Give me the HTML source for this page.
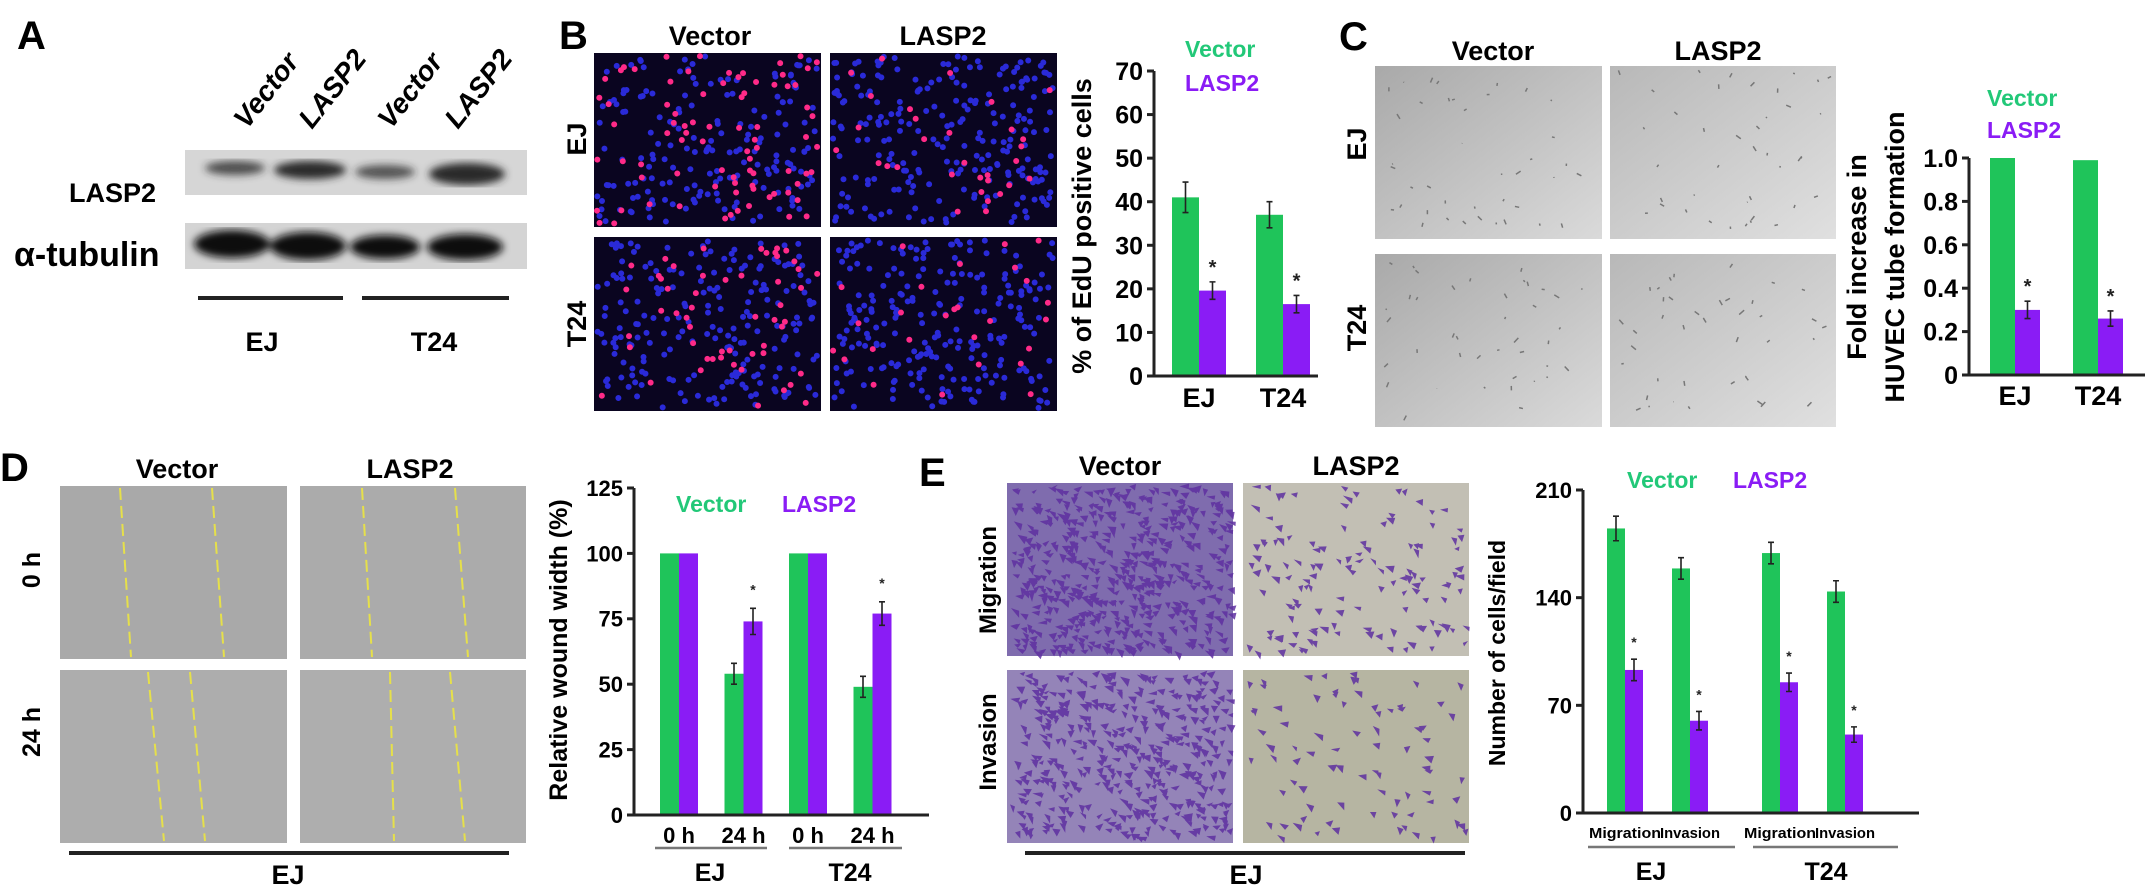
<!DOCTYPE html>
<html><head><meta charset="utf-8"><style>
html,body{margin:0;padding:0;background:#fff;}
svg{display:block;font-family:"Liberation Sans",Arial,sans-serif;font-weight:bold;}
</style></head><body>
<svg id="fig" width="2150" height="893" viewBox="0 0 2150 893" xmlns="http://www.w3.org/2000/svg">
<defs>
<filter id="blur3"><feGaussianBlur stdDeviation="4"/></filter>
<linearGradient id="tubeG" x1="0" y1="0" x2="1" y2="1"><stop offset="0" stop-color="#a9a9a9"/><stop offset="1" stop-color="#dadada"/></linearGradient>
<linearGradient id="tubeG2" x1="0" y1="0" x2="1" y2="1"><stop offset="0" stop-color="#b8b8b8"/><stop offset="1" stop-color="#e0e0e0"/></linearGradient>
</defs>

<!-- Panel A -->
<g>
<text x="17" y="49" font-size="40">A</text>
<text transform="translate(247,130) rotate(-52)" font-size="28" font-style="italic">Vector</text>
<text transform="translate(312,130) rotate(-52)" font-size="28" font-style="italic">LASP2</text>
<text transform="translate(391,130) rotate(-52)" font-size="28" font-style="italic">Vector</text>
<text transform="translate(458,130) rotate(-52)" font-size="28" font-style="italic">LASP2</text>
<text x="69" y="202" font-size="27">LASP2</text>
<text x="14" y="266" font-size="34">α-tubulin</text>
<g>
<rect x="185" y="150" width="342" height="45" fill="#d6d6d6"/>
<g filter="url(#blur3)" fill="#2a2a2a">
<ellipse cx="235" cy="168" rx="30" ry="7" opacity="0.8"/>
<ellipse cx="310" cy="170" rx="36" ry="9"/>
<ellipse cx="385" cy="172" rx="30" ry="7" opacity="0.75"/>
<ellipse cx="467" cy="174" rx="38" ry="11"/>
</g></g>
<g>
<rect x="185" y="223" width="342" height="46" fill="#d4d4d4"/>
<g filter="url(#blur3)" fill="#111">
<ellipse cx="232" cy="244" rx="38" ry="14"/>
<ellipse cx="308" cy="246" rx="38" ry="14"/>
<ellipse cx="385" cy="247" rx="35" ry="12"/>
<ellipse cx="465" cy="247" rx="38" ry="13"/>
</g></g>
<rect x="198" y="296" width="145" height="4" fill="#222"/>
<rect x="362" y="296" width="147" height="4" fill="#222"/>
<text x="262" y="351" font-size="27" text-anchor="middle">EJ</text>
<text x="434" y="351" font-size="27" text-anchor="middle">T24</text>
</g>

<!-- Panel B images -->
<g>
<text x="559" y="49" font-size="40">B</text>
<text x="710" y="45" font-size="27" text-anchor="middle">Vector</text>
<text x="943" y="45" font-size="27" text-anchor="middle">LASP2</text>
<text transform="translate(586,139) rotate(-90)" font-size="27" text-anchor="middle">EJ</text>
<text transform="translate(586,324) rotate(-90)" font-size="27" text-anchor="middle">T24</text>
<g id="edu"></g>
</g>

<!-- Panel C images -->
<g>
<text x="1339" y="50" font-size="40">C</text>
<text x="1493" y="60" font-size="27" text-anchor="middle">Vector</text>
<text x="1718" y="60" font-size="27" text-anchor="middle">LASP2</text>
<text transform="translate(1366,144) rotate(-90)" font-size="27" text-anchor="middle">EJ</text>
<text transform="translate(1366,328) rotate(-90)" font-size="27" text-anchor="middle">T24</text>
<rect x="1375" y="66" width="227" height="173" fill="url(#tubeG)"/>
<rect x="1610" y="66" width="226" height="173" fill="url(#tubeG2)"/>
<rect x="1375" y="254" width="227" height="173" fill="url(#tubeG)"/>
<rect x="1610" y="254" width="226" height="173" fill="url(#tubeG2)"/>
<g id="tubes"></g>
</g>

<!-- Panel D images -->
<g>
<text x="0" y="481" font-size="40">D</text>
<text x="177" y="478" font-size="27" text-anchor="middle">Vector</text>
<text x="410" y="478" font-size="27" text-anchor="middle">LASP2</text>
<text transform="translate(40,570) rotate(-90)" font-size="25" text-anchor="middle">0 h</text>
<text transform="translate(40,732) rotate(-90)" font-size="25" text-anchor="middle">24 h</text>
<rect x="60" y="486" width="227" height="173" fill="#a9a9a9"/>
<rect x="300" y="486" width="226" height="173" fill="#ababab"/>
<rect x="60" y="670" width="227" height="173" fill="#adadad"/>
<rect x="300" y="670" width="226" height="173" fill="#aeaeae"/>
<g stroke="#e6e04a" stroke-width="2" stroke-dasharray="12,6" fill="none">
<line x1="120" y1="488" x2="131" y2="657"/><line x1="212" y1="488" x2="224" y2="657"/>
<line x1="362" y1="488" x2="372" y2="657"/><line x1="455" y1="488" x2="468" y2="657"/>
<line x1="148" y1="672" x2="164" y2="841"/><line x1="190" y1="672" x2="205" y2="841"/>
<line x1="390" y1="672" x2="394" y2="841"/><line x1="450" y1="672" x2="465" y2="841"/>
</g>
<rect x="69" y="851" width="440" height="4" fill="#222"/>
<text x="288" y="884" font-size="27" text-anchor="middle">EJ</text>
</g>

<!-- Panel E images -->
<g>
<text x="919" y="486" font-size="40">E</text>
<text x="1120" y="475" font-size="27" text-anchor="middle">Vector</text>
<text x="1356" y="475" font-size="27" text-anchor="middle">LASP2</text>
<text transform="translate(996,580) rotate(-90)" font-size="24" text-anchor="middle">Migration</text>
<text transform="translate(996,742) rotate(-90)" font-size="24" text-anchor="middle">Invasion</text>
<rect x="1007" y="483" width="226" height="173" fill="#7f6cae"/>
<rect x="1243" y="483" width="226" height="173" fill="#c2bfb4"/>
<rect x="1007" y="670" width="226" height="173" fill="#9484b8"/>
<rect x="1243" y="670" width="226" height="173" fill="#b6b5a2"/>
<g id="cells"></g>
<rect x="1025" y="851" width="440" height="4" fill="#222"/>
<text x="1246" y="884" font-size="27" text-anchor="middle">EJ</text>
</g>

<g id="charts"></g>
</svg>
<script>
// ---------- Chart data ----------
const bCategories = ["EJ", "T24"];
const bVector = [41, 37];
const bVectorErr = [3.5, 3];
const bLasp2 = [19.6, 16.5];
const bLasp2Err = [2, 2];
const bTicks = [0, 10, 20, 30, 40, 50, 60, 70];

const cCategories = ["EJ", "T24"];
const cVector = [1.0, 0.99];
const cVectorErr = [0, 0];
const cLasp2 = [0.30, 0.26];
const cLasp2Err = [0.04, 0.035];
const cTicks = [0, 0.2, 0.4, 0.6, 0.8, 1.0];
const cTickLabels = ["0", "0.2", "0.4", "0.6", "0.8", "1.0"];

const dCategories = ["0 h", "24 h", "0 h", "24 h"];
const dVector = [100, 54, 100, 49];
const dVectorErr = [0, 4, 0, 4];
const dLasp2 = [100, 74, 100, 77];
const dLasp2Err = [0, 5, 0, 4.5];
const dTicks = [0, 25, 50, 75, 100, 125];

const eCategories = ["Migration", "Invasion", "Migration", "Invasion"];
const eVector = [185, 159, 169, 144];
const eVectorErr = [8, 7, 7, 7];
const eLasp2 = [93, 60, 85, 51];
const eLasp2Err = [7, 6, 6, 5];
const eTicks = [0, 70, 140, 210];

const GREEN = "#1fc45a", PURPLE = "#8a1cf5";
const NS = "http://www.w3.org/2000/svg";
const root = document.getElementById("charts");

function mk(tag, attrs, parent) {
  const el = document.createElementNS(NS, tag);
  for (const k in attrs) el.setAttribute(k, attrs[k]);
  (parent || root).appendChild(el);
  return el;
}

function chart(o) {
  const g = mk("g", {});
  
  
  const y = v => o.yBottom - (v - o.min) / (o.max - o.min) * (o.yBottom - o.yTop);
  const cx = i => o.xStart + i * o.step + (i >= o.groupSplit ? o.groupGap : 0);
  for (let i = 0; i < o.cats.length; i++) {
    const series = [[o.vec, o.vecErr, GREEN, "vector"], [o.las, o.lasErr, PURPLE, "lasp2"]];
    series.forEach((s, k) => {
      const val = s[0][i], err = s[1][i];
      const x = k === 0 ? cx(i) - o.barW : cx(i);
      const r = mk("rect", {x: x, y: y(val), width: o.barW, height: o.yBottom - y(val), fill: s[2]}, g);
      
      
      if (err > 0) {
        const ex = x + o.barW / 2;
        const eb = mk("path", {d: `M${ex},${y(val - err)}V${y(val + err)}M${ex - 3},${y(val - err)}h6M${ex - 3},${y(val + err)}h6`, stroke: "#222", "stroke-width": 1.6, fill: "none"}, g);
        
        
      }
      if (k === 1 && o.star && err > 0) {
        const st = mk("text", {x: x + o.barW / 2, y: y(val + err) - o.starGap, "font-size": o.starSize, "text-anchor": "middle", fill: "#222"}, g);
        st.textContent = "*";
        
        
      }
    });
  }
  const ax = mk("path", {d: `M${o.axisX},${o.yTop}V${o.yBottom}H${o.xEnd}`, stroke: "#222", "stroke-width": 3, fill: "none"}, g);
  
  
  o.ticks.forEach((t, i) => {
    const tk = mk("line", {x1: o.axisX - 7, x2: o.axisX, y1: y(t), y2: y(t), stroke: "#222", "stroke-width": 3}, g);
    
    
    const tl = mk("text", {x: o.axisX - 11, y: y(t) + o.tickSize * 0.36, "font-size": o.tickSize, "text-anchor": "end"}, g);
    tl.textContent = o.tickLabels ? o.tickLabels[i] : String(t);
    
    
  });
  o.cats.forEach((c, i) => {
    const xl = mk("text", {x: cx(i), y: o.xLabelY, "font-size": o.xLabelSize, "text-anchor": "middle"}, g);
    xl.textContent = c;
    if (o.xLabelLen) {
      xl.setAttribute("textLength", o.xLabelLen[i % o.xLabelLen.length]);
      xl.setAttribute("lengthAdjust", "spacingAndGlyphs");
    }
    
    
  });
  o.titles.forEach(t => {
    const yt = mk("text", {transform: `translate(${t[1]},${o.titleY}) rotate(-90)`, "font-size": o.titleSize, "text-anchor": "middle"}, g);
    yt.textContent = t[0];
    
    
  });
  const lv = mk("text", {x: o.legV[0], y: o.legV[1], "font-size": o.legSize, fill: "#22c878"}, g);
  lv.textContent = "Vector";
  
  
  const ll = mk("text", {x: o.legL[0], y: o.legL[1], "font-size": o.legSize, fill: "#8a1cf5"}, g);
  ll.textContent = "LASP2";
  
  
  return g;
}

chart({name: "chart-b-edu", cats: bCategories, vec: bVector, vecErr: bVectorErr, las: bLasp2, lasErr: bLasp2Err,
  ticks: bTicks, min: 0, max: 70, yTop: 71, yBottom: 376, axisX: 1154, xEnd: 1318,
  xStart: 1199, step: 84, groupSplit: 99, groupGap: 0, barW: 27, tickSize: 25, xLabelY: 407, xLabelSize: 27,
  titles: [["% of EdU positive cells", 1091]], titleY: 226, titleSize: 27,
  legV: [1185, 57], legL: [1185, 91], legSize: 23, star: true, starGap: 8, starSize: 20});

chart({name: "chart-c-tube", cats: cCategories, vec: cVector, vecErr: cVectorErr, las: cLasp2, lasErr: cLasp2Err,
  ticks: cTicks, tickLabels: cTickLabels, min: 0, max: 1, yTop: 158, yBottom: 375, axisX: 1969, xEnd: 2145,
  xStart: 2015, step: 83, groupSplit: 99, groupGap: 0, barW: 25, tickSize: 25, xLabelY: 405, xLabelSize: 27,
  titles: [["Fold increase in", 1866], ["HUVEC tube formation", 1904]], titleY: 257, titleSize: 27,
  legV: [1987, 106], legL: [1987, 138], legSize: 23, star: true, starGap: 8, starSize: 20});

chart({name: "chart-d-wound", cats: dCategories, vec: dVector, vecErr: dVectorErr, las: dLasp2, lasErr: dLasp2Err,
  ticks: dTicks, min: 0, max: 125, yTop: 488, yBottom: 815, axisX: 634, xEnd: 929,
  xStart: 679, step: 64.5, groupSplit: 99, groupGap: 0, barW: 19, tickSize: 22, xLabelY: 843, xLabelSize: 22,
  titles: [["Relative wound width (%)", 567]], titleY: 650, titleSize: 25,
  legV: [676, 512], legL: [782, 512], legSize: 23, star: true, starGap: 14, starSize: 14});

chart({name: "chart-e-transwell", cats: eCategories, vec: eVector, vecErr: eVectorErr, las: eLasp2, lasErr: eLasp2Err,
  ticks: eTicks, min: 0, max: 210, yTop: 490, yBottom: 813, axisX: 1583, xEnd: 1919,
  xStart: 1625, step: 65, groupSplit: 2, groupGap: 25, barW: 18, tickSize: 22, xLabelY: 838, xLabelSize: 15,
  xLabelLen: [72, 60],
  titles: [["Number of cells/field", 1505]], titleY: 653, titleSize: 23,
  legV: [1627, 488], legL: [1733, 488], legSize: 23, star: true, starGap: 12, starSize: 14});

[[655, 767, 848, 710, "EJ"], [789, 902, 848, 850, "T24"], [1588, 1735, 847, 1651, "EJ"], [1753, 1898, 847, 1826, "T24"]].forEach(a => {
  const l = mk("line", {x1: a[0], x2: a[1], y1: a[2], y2: a[2], stroke: "#777", "stroke-width": 2.5});
  
  
  const t = mk("text", {x: a[3], y: a[2] + 33, "font-size": 25, "text-anchor": "middle"});
  t.textContent = a[4];
  
  
});

// ---------- decorative micrograph textures ----------
let seed = 7;
function rnd() { seed = (seed * 16807) % 2147483647; return seed / 2147483647; }
const edu = document.getElementById("edu");
[[594, 53, 0.30], [830, 53, 0.10], [594, 237, 0.22], [830, 237, 0.10]].forEach(p => {
  const bg = mk("rect", {x: p[0], y: p[1], width: 227, height: 174, fill: "#0a0520"}, edu);
  
  
  let s = "", s2 = "";
  for (let i = 0; i < 260; i++) {
    const x = p[0] + 3 + rnd() * 221, y = p[1] + 3 + rnd() * 168;
    if (rnd() < p[2]) s2 += `M${x},${y}m-3,0a3,3 0 1,0 6,0a3,3 0 1,0 -6,0`;
    else s += `M${x},${y}m-3,0a3,3 0 1,0 6,0a3,3 0 1,0 -6,0`;
  }
  const a = mk("path", {d: s, fill: "#2a2ad8"}, edu);
  
  
  const b = mk("path", {d: s2, fill: "#ff2a88"}, edu);
  
  
});
const cells = document.getElementById("cells");
[[1007, 483, 520], [1243, 483, 130], [1007, 670, 420], [1243, 670, 80]].forEach(p => {
  let s = "";
  for (let i = 0; i < p[2]; i++) {
    const x = p[0] + 3 + rnd() * 218, y = p[1] + 3 + rnd() * 165;
    s += `M${x},${y}l${5 + rnd() * 5},${rnd() * 6 - 3}l${-rnd() * 4},${4 + rnd() * 4}z`;
  }
  const c = mk("path", {d: s, fill: "#5e2fa0", opacity: 0.85}, cells);
  
  
});
const tubes = document.getElementById("tubes");
[[1375, 66], [1610, 66], [1375, 254], [1610, 254]].forEach(p => {
  let s = "";
  for (let i = 0; i < 40; i++) {
    const x = p[0] + 5 + rnd() * 215, y = p[1] + 5 + rnd() * 160;
    s += `M${x},${y}l${rnd() * 10 - 5},${rnd() * 10 - 5}`;
  }
  const t = mk("path", {d: s, stroke: "#777", "stroke-width": 1.5, fill: "none"}, tubes);
  
  
});
</script>
</body></html>
